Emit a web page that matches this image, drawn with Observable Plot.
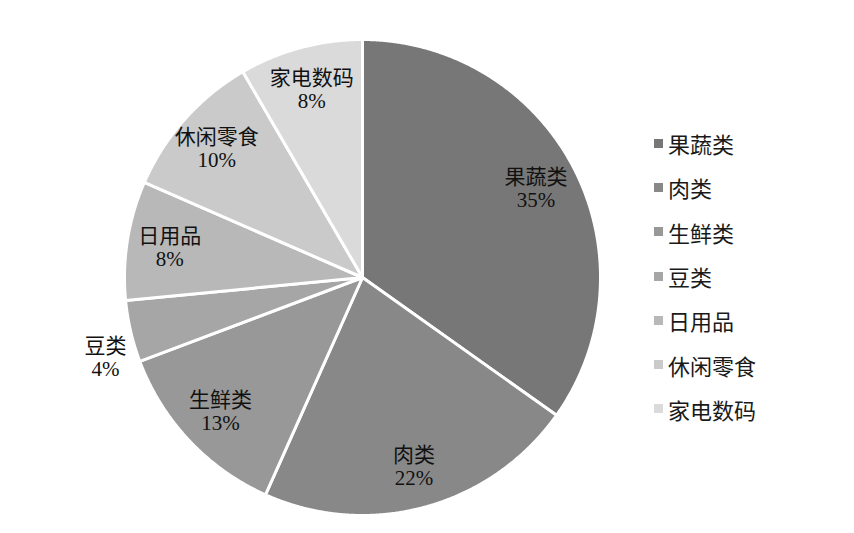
<!DOCTYPE html>
<html><head><meta charset="utf-8">
<script src="https://cdn.jsdelivr.net/npm/d3@7"></script>
<script src="https://cdn.jsdelivr.net/npm/@observablehq/plot@0.6"></script>
<style>
body{margin:0;background:#fff;}
#wrap{position:relative;width:854px;height:533px;overflow:hidden;}
#legend{position:absolute;left:654px;top:121px;font-family:"Liberation Serif","Noto Sans CJK SC",serif;font-size:22px;color:#1a1a1a;}
.item{display:flex;align-items:center;height:44.3px;}
.sw{width:9px;height:9px;margin-right:5px;flex:none;}
</style></head><body><div id="wrap"></div>
<script>
const categories = ["果蔬类","肉类","生鲜类","豆类","日用品","休闲零食","家电数码"];
const shares = [34.9, 21.9, 12.6, 4.2, 8.1, 10.1, 8.4];
const colors = ["#777777","#888888","#989898","#a6a6a6","#b8b8b8","#cacaca","#dadada"];

const W = 854, H = 533, cx = 362, cy = 277, R = 238;
const arcs = d3.pie().sort(null).value(d => d)(shares);
const rows = [];
const labels = [];
arcs.forEach((a, i) => {
  const cat = categories[i];
  rows.push({cat, x: cx, y: cy});
  const n = Math.max(2, Math.ceil((a.endAngle - a.startAngle) / 0.005));
  for (let k = 0; k <= n; k++) {
    const t = a.startAngle + (a.endAngle - a.startAngle) * k / n;
    rows.push({cat, x: cx + R * Math.sin(t), y: cy - R * Math.cos(t)});
  }
  rows.push({cat, x: cx, y: cy});
  const outside = shares[i] < 5;
  const mid = (a.startAngle + a.endAngle) / 2 - (outside ? 0.07 : 0);
  const rr = outside ? 1.13 * R : 0.82 * R;
  labels.push({cat, x: cx + rr * Math.sin(mid), y: cy - rr * Math.cos(mid), text: cat + "\n" + Math.round(shares[i]) + "%"});
});

const chart = Plot.plot({
  width: W, height: H, margin: 0,
  x: {domain: [0, W], range: [0, W], axis: null},
  y: {domain: [0, H], range: [0, H], axis: null},
  color: {domain: categories, range: colors},
  style: {background: "#fff"},
  marks: [
    Plot.line(rows, {x: "x", y: "y", z: "cat", fill: "cat", stroke: "#fff", strokeWidth: 3, curve: "linear", strokeLinejoin: "round"}),
    Plot.text(labels, {x: "x", y: "y", text: "text", fontSize: 21, lineHeight: 1.1, fill: "#111", fontFamily: "'Liberation Serif','Noto Sans CJK SC',serif"})
  ]
});
const wrap = document.getElementById("wrap");
wrap.appendChild(chart);
const legend = document.createElement("div");
legend.id = "legend";
categories.forEach((c, i) => {
  const it = document.createElement("div");
  it.className = "item";
  const sw = document.createElement("span");
  sw.className = "sw";
  sw.style.background = colors[i];
  const tx = document.createElement("span");
  tx.textContent = c;
  it.appendChild(sw); it.appendChild(tx);
  legend.appendChild(it);
});
wrap.appendChild(legend);
</script></body></html>
